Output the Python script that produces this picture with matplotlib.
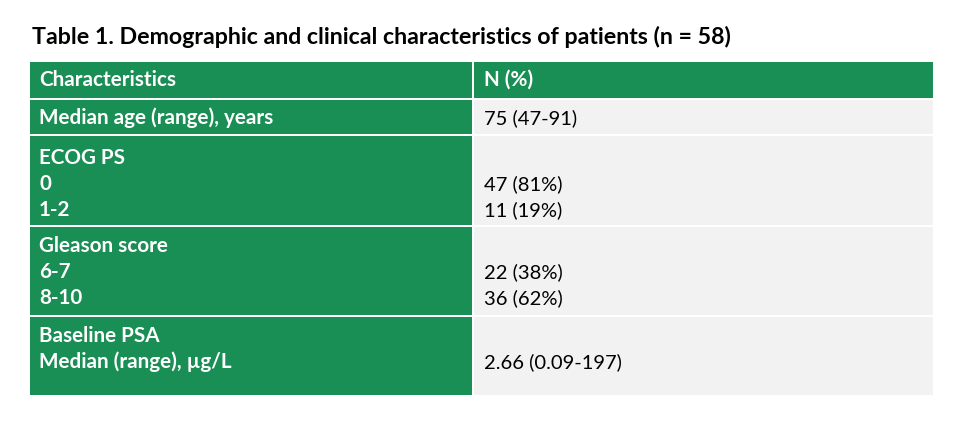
import matplotlib.pyplot as plt
from matplotlib.patches import Rectangle

plt.rcParams['font.family'] = ['Lato', 'DejaVu Sans']

title = 'Table 1. Demographic and clinical characteristics of patients (n = 58)'
header = ['Characteristics', 'N (%)']
left_col = [
    ['Median age (range), years'],
    ['ECOG PS', '0', '1-2'],
    ['Gleason score', '6-7', '8-10'],
    ['Baseline PSA', 'Median (range), \u00b5g/L'],
]
right_col = [
    ['75 (47-91)'],
    ['', '47 (81%)', '11 (19%)'],
    ['', '22 (38%)', '36 (62%)'],
    ['', '2.66 (0.09-197)'],
]

green = '#1a8f55'
grey = '#f2f2f2'

# row edges in pixels
row_top = [62, 100, 136, 227, 317]
row_bot = [98, 134, 225, 315, 395]
x0, xm, x1 = 30, 473, 933
line_h = 26

fig = plt.figure(figsize=(9.64, 4.22), dpi=100)
ax = fig.add_axes([0, 0, 1, 1])
ax.set_xlim(0, 964)
ax.set_ylim(422, 0)
ax.axis('off')

ax.text(32, 37, title, fontsize=16.7, fontweight='bold', va='center', ha='left', color='black')

for i in range(5):
    t, b = row_top[i], row_bot[i]
    ax.add_patch(Rectangle((x0, t), xm - 1 - x0, b - t, color=green, lw=0))
    ax.add_patch(Rectangle((xm + 1, t), x1 - xm - 1, b - t, color=green if i == 0 else grey, lw=0))

hy = (row_top[0] + row_bot[0]) / 2
ax.text(39, hy, header[0], fontsize=14.9, fontweight='bold', color='white', va='center')
ax.text(484, hy, header[1], fontsize=14.9, fontweight='bold', color='white', va='center')

first_line = [118, 158, 246, 336]
for i in range(4):
    for j, s in enumerate(left_col[i]):
        ax.text(39, first_line[i] + j * line_h, s, fontsize=14.9, fontweight='bold', color='white', va='center')
    for j, s in enumerate(right_col[i]):
        if s:
            ax.text(484, first_line[i] + j * line_h, s, fontsize=14.5, color='black', va='center')

fig.savefig('out.png', dpi=100, facecolor='white')
